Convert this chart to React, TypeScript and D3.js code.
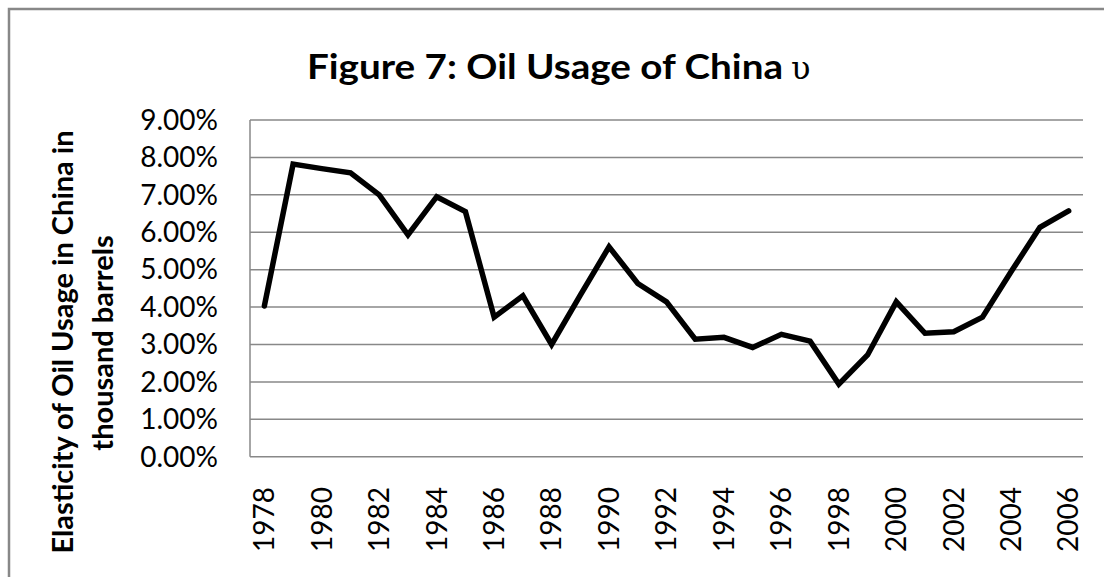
import React from "react";
import * as d3 from "d3";

const years: number[] = [1978,1979,1980,1981,1982,1983,1984,1985,1986,1987,1988,1989,1990,1991,1992,1993,1994,1995,1996,1997,1998,1999,2000,2001,2002,2003,2004,2005,2006];
const elasticity: number[] = [4.03,7.82,7.70,7.59,7.00,5.93,6.95,6.55,3.73,4.30,3.00,4.32,5.61,4.63,4.14,3.14,3.19,2.92,3.27,3.09,1.94,2.72,4.14,3.30,3.34,3.73,4.95,6.13,6.57];
const yTicks: number[] = [0,1,2,3,4,5,6,7,8,9];
const xTickYears: number[] = [1978,1980,1982,1984,1986,1988,1990,1992,1994,1996,1998,2000,2002,2004,2006];
const titleText = "Figure 7: Oil Usage of China";
const titleSymbol = "υ";
const yTitle1 = "Elasticity of Oil Usage in China in";
const yTitle2 = "thousand barrels";

const W = 1104, H = 577;
const plot = { left: 250, right: 1083, top: 120, bottom: 456.7 };
const FONT = "Lato, 'Open Sans', sans-serif";

export default function App() {
  const x = d3.scaleBand<number>().domain(years).range([plot.left, plot.right]);
  const y = d3.scaleLinear().domain([0, 9]).range([plot.bottom, plot.top]);
  const cx = (yr: number) => (x(yr) as number) + x.bandwidth() / 2;
  const line = d3.line<number>().x((_, i) => cx(years[i])).y((d) => y(d));
  const path = line(elasticity) || "";
  return (
    <svg width={W} height={H} style={{ position: "absolute", left: 0, top: 0, display: "block" }}>
      <rect x={0} y={0} width={W} height={H} fill="#fff" />
      <path d={`M9,${H} L9,9 L${W},9`} fill="none" stroke="#888" strokeWidth={2.5} />
      <text x={307} y={79} fontFamily={FONT} fontWeight="bold" fontSize={35} fill="#000" textLength={476} lengthAdjust="spacingAndGlyphs">
        {titleText}
      </text>
      <text x={791} y={79} fontFamily="'DejaVu Serif', serif" fontSize={32} fill="#000">
        {titleSymbol}
      </text>
      {yTicks.map((t) => (
        <line key={"g" + t} x1={plot.left} x2={plot.right} y1={y(t)} y2={y(t)} stroke="#888" strokeWidth={1.5} />
      ))}
      <line x1={plot.left} x2={plot.left} y1={plot.top} y2={plot.bottom} stroke="#888" strokeWidth={1.5} />
      {yTicks.map((t) => (
        <text key={"yl" + t} x={218} y={y(t)} dy="0.35em" textAnchor="end" fontFamily={FONT} fontSize={28} fill="#000">
          {t.toFixed(2) + "%"}
        </text>
      ))}
      {xTickYears.map((yr) => (
        <text key={"xl" + yr} transform={`translate(${cx(yr)},487) rotate(-90)`} dy="0.35em" textAnchor="end" fontFamily={FONT} fontSize={28} fill="#000">
          {String(yr)}
        </text>
      ))}
      <path d={path} fill="none" stroke="#000" strokeWidth={5.5} strokeLinejoin="miter" strokeLinecap="round" />
      <text transform="translate(73,342) rotate(-90)" textAnchor="middle" fontFamily={FONT} fontWeight="bold" fontSize={29} fill="#000">
        {yTitle1}
      </text>
      <text transform="translate(113,343) rotate(-90)" textAnchor="middle" fontFamily={FONT} fontWeight="bold" fontSize={29} fill="#000">
        {yTitle2}
      </text>
    </svg>
  );
}
